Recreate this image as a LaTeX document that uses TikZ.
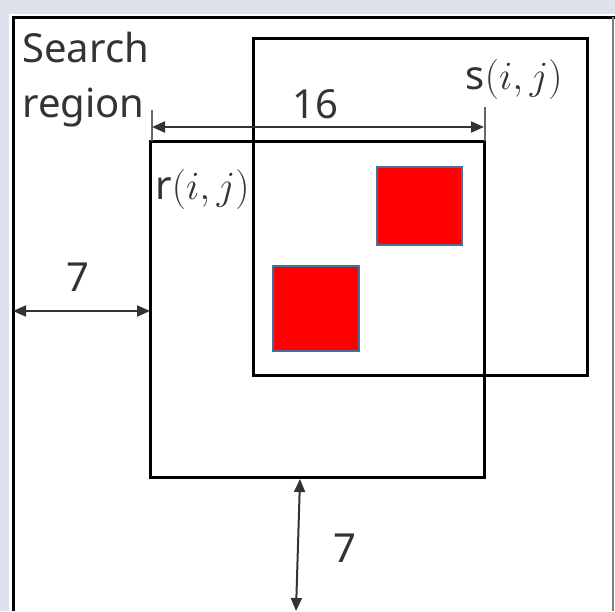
\documentclass[tikz,border=0pt]{standalone}
\usepackage{fix-cm}
\usepackage{fontspec}
\setmainfont{Noto Sans}
\usetikzlibrary{arrows.meta}
\definecolor{bgblue}{RGB}{222,226,236}
\definecolor{edgeblue}{RGB}{70,112,160}

\tikzset{
  box/.style={draw=black, line width=1.5pt},
  redbox/.style={fill=red, draw=edgeblue, line width=1pt},
  dimline/.style={{Triangle[length=6.5pt,width=5.5pt]}-{Triangle[length=6.5pt,width=5.5pt]}, black!80, line width=1pt},
  dimtick/.style={black!60, line width=0.8pt},
  lbl/.style={font=\fontsize{20}{24}\selectfont, text=black!80, inner sep=0pt},
}

\begin{document}
\begin{tikzpicture}[x=0.5pt,y=-0.5pt]
\fill[bgblue] (0,0) rectangle (615,611);
\useasboundingbox (0,0) rectangle (615,611);
\fill[white] (9,14) rectangle (615,611);
% search region, cut at the bottom
\draw[box] (13,611) -- (13,17) -- (615,17);
\draw[black!50, line width=0.8pt] (613,17) -- (613,611);
% blocks
\coordinate (s-nw) at (253,38);
\coordinate (s-se) at (587,375);
\coordinate (r-nw) at (150,141);
\coordinate (r-se) at (484,477);
\draw[box] (s-nw) rectangle (s-se);
\draw[box] (r-nw) rectangle (r-se);
\draw[redbox] (377,167) rectangle (462,245);
\draw[redbox] (273,266) rectangle (359,351);
% width 16
\coordinate (w-l) at (152,127);
\coordinate (w-r) at (484,127);
\draw[dimtick] (152,110) -- (152,141);
\draw[dimtick] (485,107) -- (485,141);
\draw[dimline] (w-l) -- (w-r);
% margins 7
\coordinate (m-l) at (13,311);
\coordinate (m-r) at (150,311);
\draw[dimline] (m-l) -- (m-r);
\coordinate (m-t) at (300,479);
\coordinate (m-b) at (296,611);
\draw[dimline] (m-t) -- (m-b);
% labels
\node[lbl, anchor=base west] (search) at (22,62) {Search};
\node[lbl, anchor=base west] (region) at (22,117) {region};
\node[lbl] (w16) at (315,104) {16};
\node[lbl] (h7) at (78,277) {7};
\node[lbl] (v7) at (345,548) {7};
\node[lbl, anchor=base east] (slbl) at (563,89) {s$(i,j)$};
\node[lbl, anchor=base west] (rlbl) at (155,199) {r$(i,j)$};
\end{tikzpicture}
\end{document}
